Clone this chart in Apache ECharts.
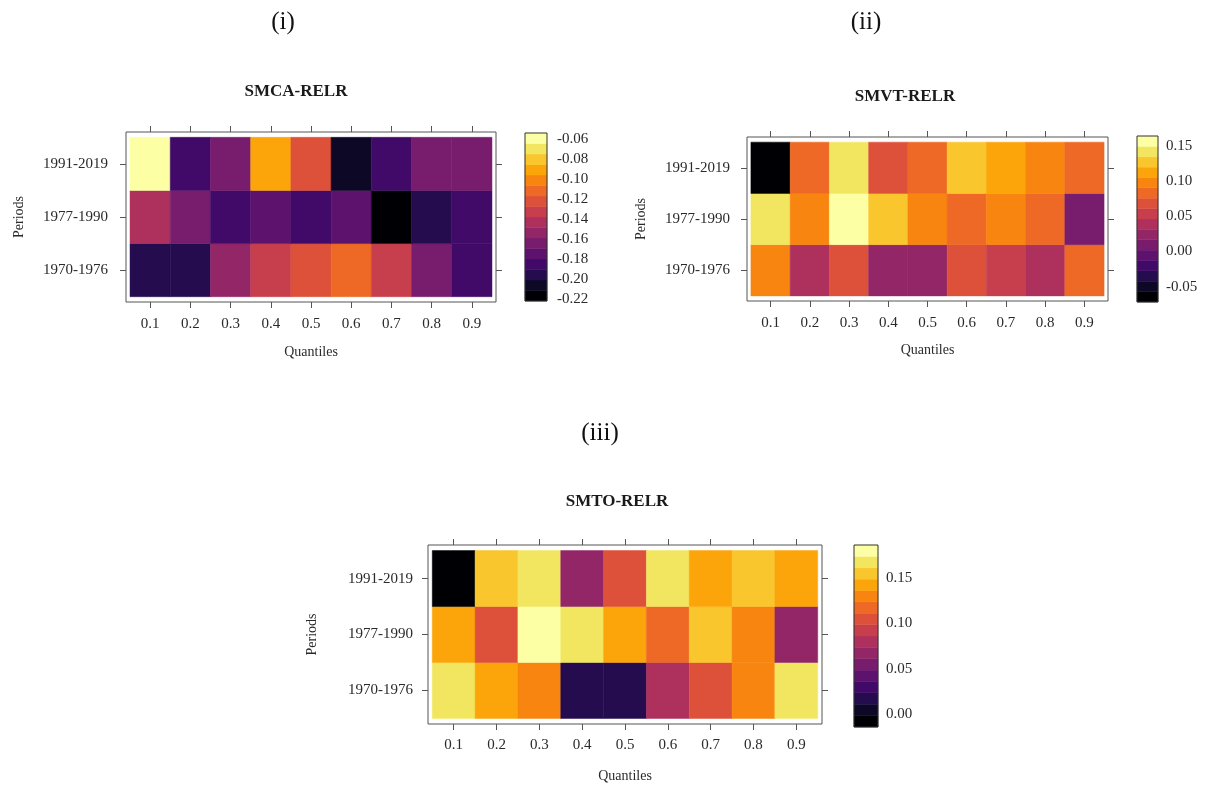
<!DOCTYPE html>
<html>
<head>
<meta charset="utf-8">
<title>RELR quantile heatmaps</title>
<script src="https://cdn.jsdelivr.net/npm/echarts@6.0.0/dist/echarts.min.js"></script>
<style>
  html, body { margin: 0; padding: 0; background: #fff; }
  #chart { width: 1206px; height: 788px; }
</style>
</head>
<body>
<div id="chart"></div>
<script>
// categories
const quantiles = ['0.1', '0.2', '0.3', '0.4', '0.5', '0.6', '0.7', '0.8', '0.9']
const periods = ['1970-1976', '1977-1990', '1991-2019'] // bottom to top

// (i) SMCA-RELR
const smca1970 = [-0.196, -0.196, -0.154, -0.133, -0.122, -0.112, -0.133, -0.164, -0.185]
const smca1977 = [-0.143, -0.164, -0.185, -0.175, -0.185, -0.175, -0.212, -0.196, -0.185]
const smca1991 = [-0.063, -0.185, -0.164, -0.090, -0.122, -0.205, -0.185, -0.164, -0.164]

// (ii) SMVT-RELR
const smvt1970 = [0.098, 0.039, 0.068, 0.024, 0.024, 0.068, 0.054, 0.039, 0.083]
const smvt1977 = [0.141, 0.098, 0.150, 0.127, 0.098, 0.083, 0.098, 0.083, 0.009]
const smvt1991 = [-0.062, 0.083, 0.141, 0.068, 0.083, 0.127, 0.112, 0.098, 0.083]

// (iii) SMTO-RELR
const smto1970 = [0.168, 0.142, 0.130, 0.017, 0.017, 0.080, 0.105, 0.130, 0.168]
const smto1977 = [0.142, 0.105, 0.176, 0.168, 0.142, 0.117, 0.155, 0.130, 0.067]
const smto1991 = [-0.008, 0.155, 0.168, 0.067, 0.105, 0.168, 0.142, 0.155, 0.142]

// colour key: range (bottom, top) and tick labels
const smcaKeyRange = [-0.2215, -0.0535]
const smvtKeyRange = [-0.0717, 0.1638]
const smtoKeyRange = [-0.0143, 0.1866]
const smcaKeyTicks = [-0.22, -0.20, -0.18, -0.16, -0.14, -0.12, -0.10, -0.08, -0.06]
const smvtKeyTicks = [-0.05, 0.00, 0.05, 0.10, 0.15]
const smtoKeyTicks = [0.00, 0.05, 0.10, 0.15]

// inferno, 16 levels
const inferno = ['#000004', '#0c0826', '#240c4f', '#420a68', '#5d126e', '#781c6d', '#932667', '#ae305c',
  '#c73e4c', '#dd513a', '#ed6925', '#f8850f', '#fca50a', '#fac62d', '#f2e661', '#fcffa4']

const serif = '"Liberation Serif", "DejaVu Serif", serif'
const textColor = '#2a2a2a'
const lineColor = '#555'

const panels = [
  {
    title: 'SMCA-RELR', caption: '(i)', rows: [smca1970, smca1977, smca1991],
    keyRange: smcaKeyRange, keyTicks: smcaKeyTicks,
    box: { left: 126, top: 132, width: 370, height: 170 },
    key: { left: 525, top: 133, width: 22, height: 168 },
    captionAt: [283, 22], titleAt: [296, 92],
    xMargin: 15, yMargin: 18, quantGap: 43, periodGap: 100, keyMargin: 10
  },
  {
    title: 'SMVT-RELR', caption: '(ii)', rows: [smvt1970, smvt1977, smvt1991],
    keyRange: smvtKeyRange, keyTicks: smvtKeyTicks,
    box: { left: 747, top: 137, width: 361, height: 164 },
    key: { left: 1137, top: 136, width: 21, height: 166 },
    captionAt: [866, 22], titleAt: [905, 97],
    xMargin: 15, yMargin: 17, quantGap: 42, periodGap: 99, keyMargin: 8
  },
  {
    title: 'SMTO-RELR', caption: '(iii)', rows: [smto1970, smto1977, smto1991],
    keyRange: smtoKeyRange, keyTicks: smtoKeyTicks,
    box: { left: 428, top: 545, width: 394, height: 179 },
    key: { left: 854, top: 545, width: 24, height: 182 },
    captionAt: [600, 433], titleAt: [617, 502],
    xMargin: 14, yMargin: 15, quantGap: 45, periodGap: 109, keyMargin: 8
  }
]

function renderCell (params, api) {
  const x = api.value(0)
  const y = api.value(1)
  const a = api.coord([x - 0.5, y + 0.5])
  const b = api.coord([x + 0.5, y - 0.5])
  const color = api.visual('color')
  return {
    type: 'rect',
    shape: { x: a[0], y: a[1], width: b[0] - a[0], height: b[1] - a[1] },
    style: { fill: color, stroke: color, lineWidth: 0.5 }
  }
}

function renderKey (params, api) {
  const a = api.coord([0, api.value(1)])
  const b = api.coord([1, api.value(0)])
  const color = api.visual('color')
  return {
    type: 'rect',
    shape: { x: a[0], y: a[1], width: b[0] - a[0], height: b[1] - a[1] },
    style: { fill: color, stroke: color, lineWidth: 0.5 }
  }
}

const xPos = quantiles.map((q, j) => j + 1)
const yPos = periods.map((p, j) => j + 1)

const grids = []
const xAxes = []
const yAxes = []
const series = []
const visualMaps = []
const texts = []

panels.forEach((p, i) => {
  const n = inferno.length
  const step = (p.keyRange[1] - p.keyRange[0]) / n
  const edges = inferno.map((c, k) => p.keyRange[0] + k * step).concat([p.keyRange[1]])
  const pieces = inferno.map((c, k) => ({ gte: edges[k], lt: edges[k + 1], color: c }))
  pieces[n - 1] = { gte: edges[n - 1], lte: edges[n] + 1e-9, color: inferno[n - 1] }

  const g = grids.length
  grids.push(Object.assign({ show: true, borderColor: lineColor, borderWidth: 1, outerBoundsMode: 'none' }, p.box))
  grids.push(Object.assign({ show: true, borderColor: '#333', borderWidth: 1, z: 10, outerBoundsMode: 'none' }, p.key))

  const ax = xAxes.length
  const tickStyle = { show: true, length: 6, lineStyle: { color: lineColor, width: 1 } }
  xAxes.push({
    gridIndex: g, type: 'value', position: 'bottom', min: 0.4, max: 9.6,
    name: 'Quantiles', nameLocation: 'middle', nameGap: p.quantGap,
    nameTextStyle: { fontFamily: serif, fontSize: 14, color: textColor },
    axisLine: { show: false }, splitLine: { show: false },
    axisTick: Object.assign({ customValues: xPos }, tickStyle),
    axisLabel: {
      customValues: xPos, margin: p.xMargin, fontFamily: serif, fontSize: 15, color: textColor,
      formatter: v => quantiles[Math.round(v) - 1]
    }
  })
  xAxes.push({
    gridIndex: g, type: 'value', position: 'top', min: 0.4, max: 9.6,
    axisLine: { show: false }, splitLine: { show: false },
    axisTick: Object.assign({ customValues: xPos }, tickStyle),
    axisLabel: { show: false }
  })
  xAxes.push({ gridIndex: g + 1, type: 'value', min: 0, max: 1, show: false })

  yAxes.push({
    gridIndex: g, type: 'value', position: 'left', min: 0.4, max: 3.6,
    name: 'Periods', nameLocation: 'middle', nameGap: p.periodGap,
    nameTextStyle: { fontFamily: serif, fontSize: 14, color: textColor },
    axisLine: { show: false }, splitLine: { show: false },
    axisTick: Object.assign({ customValues: yPos }, tickStyle),
    axisLabel: {
      customValues: yPos, margin: p.yMargin, fontFamily: serif, fontSize: 15, color: textColor,
      formatter: v => periods[Math.round(v) - 1]
    }
  })
  yAxes.push({
    gridIndex: g, type: 'value', position: 'right', min: 0.4, max: 3.6,
    axisLine: { show: false }, splitLine: { show: false },
    axisTick: Object.assign({ customValues: yPos }, tickStyle),
    axisLabel: { show: false }
  })
  yAxes.push({
    gridIndex: g + 1, type: 'value', position: 'right', min: p.keyRange[0], max: p.keyRange[1],
    axisLine: { show: false }, splitLine: { show: false },
    axisTick: { show: true, length: 5, customValues: p.keyTicks, lineStyle: { color: '#444' } },
    axisLabel: {
      customValues: p.keyTicks, margin: p.keyMargin, fontFamily: serif, fontSize: 15, color: textColor,
      formatter: v => v.toFixed(2)
    }
  })

  const cells = []
  p.rows.forEach((row, r) => {
    row.forEach((v, c) => cells.push([c + 1, r + 1, v]))
  })
  const keyBins = inferno.map((c, k) => [edges[k], edges[k + 1], (edges[k] + edges[k + 1]) / 2])

  const s = series.length
  series.push({
    type: 'custom', name: p.title, xAxisIndex: ax, yAxisIndex: ax,
    renderItem: renderCell, encode: { x: 0, y: 1 }, data: cells, silent: true
  })
  series.push({
    type: 'custom', name: p.title + ' key', xAxisIndex: ax + 2, yAxisIndex: ax + 2,
    renderItem: renderKey, encode: { y: [0, 1] }, data: keyBins, silent: true
  })

  visualMaps.push({
    type: 'piecewise', show: false, dimension: 2, seriesIndex: [s, s + 1], pieces: pieces
  })

  texts.push({
    type: 'text', x: p.captionAt[0], y: p.captionAt[1],
    style: {
      text: p.caption, font: '25px ' + serif, fill: '#111',
      align: 'center', verticalAlign: 'middle', textAlign: 'center', textVerticalAlign: 'middle'
    }
  })
  texts.push({
    type: 'text', x: p.titleAt[0], y: p.titleAt[1],
    style: {
      text: p.title, font: 'bold 17px ' + serif, fill: '#1a1a1a',
      align: 'center', verticalAlign: 'middle', textAlign: 'center', textVerticalAlign: 'middle'
    }
  })
})

const chart = echarts.init(document.getElementById('chart'))
chart.setOption({
  backgroundColor: '#fff',
  animation: false,
  grid: grids,
  xAxis: xAxes,
  yAxis: yAxes,
  visualMap: visualMaps,
  series: series,
  graphic: texts
})
</script>
</body>
</html>
